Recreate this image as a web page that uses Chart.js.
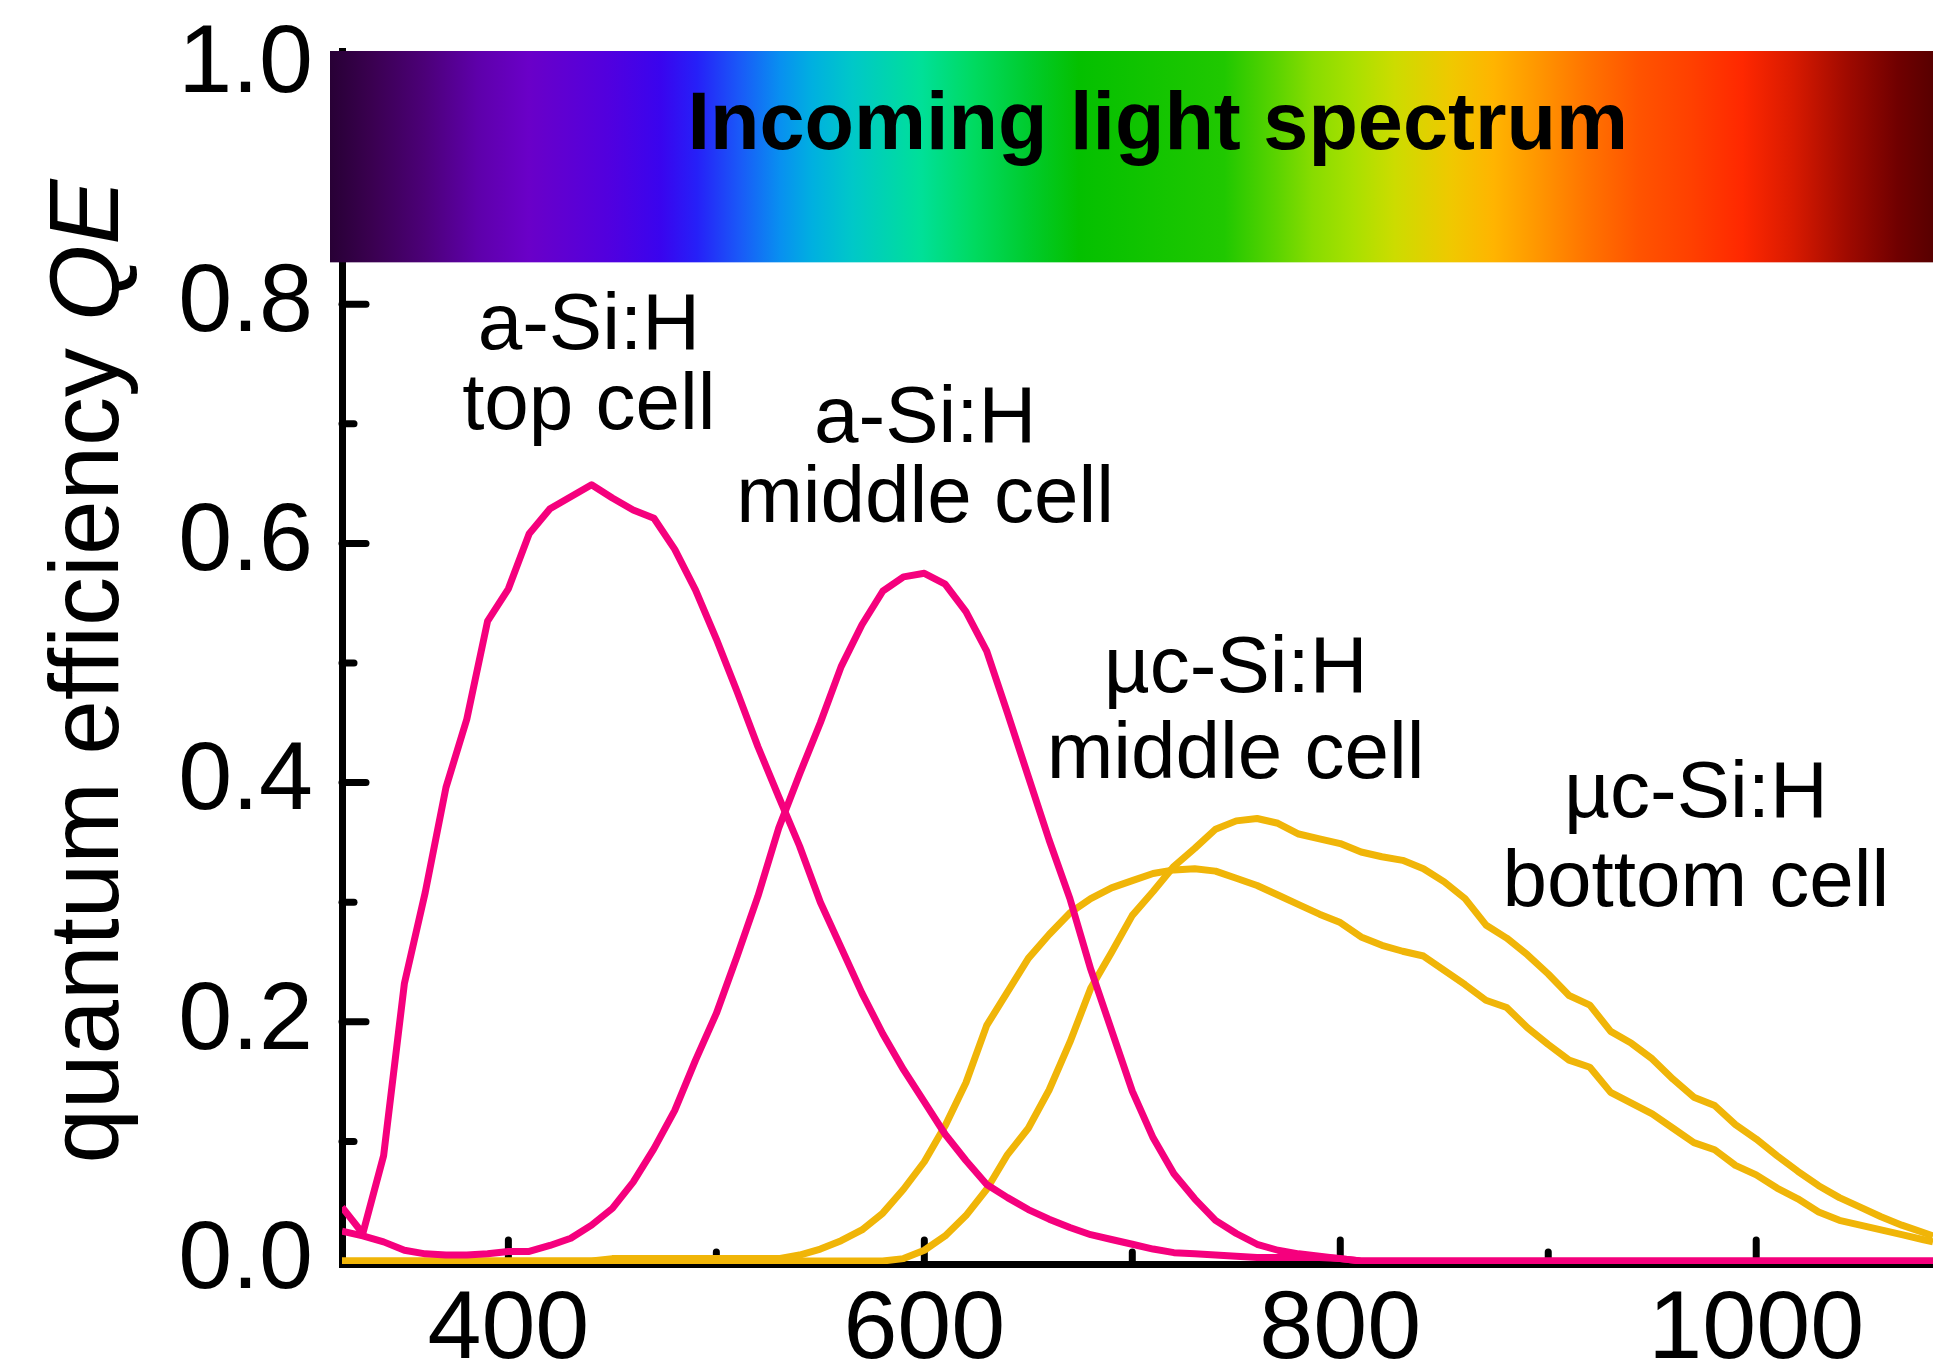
<!DOCTYPE html>
<html>
<head>
<meta charset="utf-8">
<title>Quantum efficiency of a triple-junction cell</title>
<script src="https://cdn.jsdelivr.net/npm/chart.js@4.4.1/dist/chart.umd.min.js"></script>
<style>
  html, body { margin: 0; padding: 0; background: #ffffff; }
  #wrap { position: relative; width: 1933px; height: 1372px; }
</style>
</head>
<body>
<div id="wrap"><canvas id="qe_chart"></canvas></div>
<script>
// wavelength grid in nm
const wavelengths = [
  320, 330, 340, 350, 360, 370, 380, 390, 400, 410,
  420, 430, 440, 450, 460, 470, 480, 490, 500, 510,
  520, 530, 540, 550, 560, 570, 580, 590, 600, 610,
  620, 630, 640, 650, 660, 670, 680, 690, 700, 710,
  720, 730, 740, 750, 760, 770, 780, 790, 800, 810,
  820, 830, 840, 850, 860, 870, 880, 890, 900, 910,
  920, 930, 940, 950, 960, 970, 980, 990, 1000, 1010,
  1020, 1030, 1040, 1050, 1060, 1070, 1080, 1085,
]

const aSiTopCell = [
  0.045, 0.023, 0.088, 0.232, 0.308, 0.396, 0.453, 0.535, 0.562, 0.608,
  0.629, 0.639, 0.649, 0.638, 0.628, 0.621, 0.595, 0.561, 0.52, 0.476,
  0.43, 0.388, 0.347, 0.3, 0.262, 0.224, 0.19, 0.16, 0.133, 0.106,
  0.084, 0.064, 0.053, 0.043, 0.035, 0.028, 0.022, 0.018, 0.014, 0.01,
  0.007, 0.006, 0.005, 0.004, 0.003, 0.003, 0.003, 0.003, 0.002, 0,
  0, 0, 0, 0, 0, 0, 0, 0, 0, 0,
  0, 0, 0, 0, 0, 0, 0, 0, 0, 0,
  0, 0, 0, 0, 0, 0, 0, 0,
]

const aSiMiddleCell = [
  0.025, 0.021, 0.016, 0.009, 0.006, 0.005, 0.005, 0.006, 0.008, 0.008,
  0.013, 0.019, 0.03, 0.044, 0.066, 0.094, 0.126, 0.168, 0.207, 0.255,
  0.305, 0.362, 0.407, 0.45, 0.497, 0.532, 0.56, 0.572, 0.575, 0.566,
  0.543, 0.51, 0.458, 0.405, 0.352, 0.303, 0.244, 0.193, 0.142, 0.103,
  0.073, 0.052, 0.034, 0.023, 0.014, 0.009, 0.006, 0.004, 0.002, 0,
  0, 0, 0, 0, 0, 0, 0, 0, 0, 0,
  0, 0, 0, 0, 0, 0, 0, 0, 0, 0,
  0, 0, 0, 0, 0, 0, 0, 0,
]

const ucSiMiddleCell = [
  0, 0, 0, 0, 0, 0, 0, 0, 0, 0,
  0, 0, 0, 0.002, 0.002, 0.002, 0.002, 0.002, 0.002, 0.002,
  0.002, 0.002, 0.005, 0.01, 0.017, 0.026, 0.04, 0.06, 0.083, 0.113,
  0.149, 0.197, 0.225, 0.253, 0.273, 0.291, 0.303, 0.312, 0.318, 0.324,
  0.327, 0.328, 0.326, 0.32, 0.314, 0.306, 0.298, 0.29, 0.283, 0.271,
  0.264, 0.259, 0.255, 0.243, 0.231, 0.218, 0.212, 0.195, 0.181, 0.168,
  0.162, 0.141, 0.132, 0.123, 0.111, 0.099, 0.093, 0.08, 0.072, 0.061,
  0.052, 0.041, 0.034, 0.03, 0.026, 0.022, 0.018, 0.016,
]

const ucSiBottomCell = [
  0, 0, 0, 0, 0, 0, 0, 0, 0, 0,
  0, 0, 0, 0, 0, 0, 0, 0, 0, 0,
  0, 0, 0, 0, 0, 0, 0, 0.002, 0.009, 0.021,
  0.038, 0.06, 0.089, 0.111, 0.143, 0.183, 0.228, 0.258, 0.289, 0.309,
  0.33, 0.345, 0.361, 0.368, 0.37, 0.366, 0.357, 0.353, 0.349, 0.342,
  0.338, 0.335, 0.328, 0.317, 0.303, 0.281, 0.27, 0.256, 0.24, 0.222,
  0.214, 0.192, 0.182, 0.169, 0.152, 0.137, 0.13, 0.114, 0.102, 0.088,
  0.075, 0.063, 0.053, 0.045, 0.037, 0.03, 0.024, 0.021,
]

// axis ticks: labelled values and the inward tick marks
const xTickLabels = [400, 600, 800, 1000]
const xMinorTicks = [500, 700, 900]
const yTickLabels = [0, 0.2, 0.4, 0.6, 0.8, 1.0]
const yMinorTicks = [0.1, 0.3, 0.5, 0.7, 0.9]

const cellLabels = [
  ["a-Si:H", "top cell"],
  ["a-Si:H", "middle cell"],
  ["µc-Si:H", "middle cell"],
  ["µc-Si:H", "bottom cell"],
]
const spectrumTitle = "Incoming light spectrum"
const yAxisTitle = ["quantum efficiency ", "QE"]

const FONT = "'Liberation Sans', Arial, sans-serif"
const MAGENTA = "#f5007d"
const GOLD = "#f0b508"

Chart.defaults.font.family = FONT
Chart.defaults.color = "#000000"

const toPoints = (values) => wavelengths.map((w, i) => ({ x: w, y: values[i] }))

// tick marks point into the plot, long for labelled values, short in between
const inwardTicks = {
  id: "inwardTicks",
  beforeDatasetsDraw(chart) {
    const { ctx, chartArea, scales: { x, y } } = chart
    ctx.save()
    ctx.strokeStyle = "#000000"
    ctx.lineWidth = 7
    ctx.lineCap = "round"
    const tick = (x1, y1, x2, y2) => {
      ctx.beginPath()
      ctx.moveTo(x1, y1)
      ctx.lineTo(x2, y2)
      ctx.stroke()
    }
    xTickLabels.forEach((v) => {
      const px = x.getPixelForValue(v)
      tick(px, chartArea.bottom, px, chartArea.bottom - 24)
    })
    xMinorTicks.forEach((v) => {
      const px = x.getPixelForValue(v)
      tick(px, chartArea.bottom, px, chartArea.bottom - 12)
    })
    yTickLabels.slice(1).forEach((v) => {
      const py = y.getPixelForValue(v)
      tick(chartArea.left, py, chartArea.left + 24, py)
    })
    yMinorTicks.forEach((v) => {
      const py = y.getPixelForValue(v)
      tick(chartArea.left, py, chartArea.left + 12, py)
    })
    ctx.restore()
  },
}

// rainbow band across the top of the plot
const spectrumBar = {
  id: "spectrumBar",
  beforeDatasetsDraw(chart) {
    const { ctx, chartArea, scales: { x, y } } = chart
    const left = chartArea.left - 12
    const top = y.getPixelForValue(y.max)
    const bottom = y.getPixelForValue(0.835)
    const grad = ctx.createLinearGradient(left, 0, chart.width, 0)
    const stops = [
      [0, "#280035"], [0.026, "#3a0050"], [0.059, "#4c0078"], [0.092, "#5e00aa"],
      [0.124, "#6a00c8"], [0.173, "#5200de"], [0.206, "#3a04ee"], [0.229, "#2620f8"],
      [0.255, "#1a58f8"], [0.281, "#0890f0"], [0.301, "#00b0e0"], [0.326, "#00c8c8"],
      [0.369, "#00e098"], [0.402, "#00da60"], [0.434, "#00cc30"], [0.467, "#04c000"],
      [0.558, "#20c800"], [0.591, "#5cd400"], [0.613, "#88dc00"], [0.638, "#a8e000"],
      [0.664, "#ccdc00"], [0.7, "#f0c800"], [0.726, "#ffb400"], [0.752, "#ff9800"],
      [0.784, "#ff7400"], [0.816, "#ff5400"], [0.849, "#ff4000"], [0.881, "#ff2800"],
      [0.913, "#d81a00"], [0.946, "#a00a00"], [0.978, "#700000"], [1, "#580000"],
    ]
    stops.forEach(([pos, color]) => grad.addColorStop(pos, color))
    ctx.save()
    ctx.fillStyle = grad
    ctx.fillRect(left, top, chart.width - left, bottom - top)
    ctx.fillStyle = "#000000"
    ctx.font = `bold 81px ${FONT}`
    ctx.textAlign = "center"
    ctx.textBaseline = "alphabetic"
    ctx.fillText(spectrumTitle, x.getPixelForValue(712.2), y.getPixelForValue(0.9298))
    ctx.restore()
  },
}

// cell names next to their curves, and the rotated y axis title
const cellAnnotations = {
  id: "cellAnnotations",
  afterDraw(chart) {
    const { ctx, scales: { x, y } } = chart
    const anchors = [
      { x: 438.7, y: [0.7625, 0.6957] },
      { x: 600.4, y: [0.6848, 0.6179] },
      { x: 749.7, y: [0.4758, 0.4038] },
      { x: 971.0, y: [0.3712, 0.2968] },
    ]
    ctx.save()
    ctx.fillStyle = "#000000"
    ctx.font = `80px ${FONT}`
    ctx.textAlign = "center"
    ctx.textBaseline = "alphabetic"
    cellLabels.forEach((lines, i) => {
      lines.forEach((line, j) => {
        ctx.fillText(line, x.getPixelForValue(anchors[i].x), y.getPixelForValue(anchors[i].y[j]))
      })
    })

    const regular = `98px ${FONT}`
    const italic = `italic 98px ${FONT}`
    ctx.font = regular
    const w1 = ctx.measureText(yAxisTitle[0]).width
    ctx.font = italic
    const w2 = ctx.measureText(yAxisTitle[1]).width
    ctx.translate(118, y.getPixelForValue(0.493))
    ctx.rotate(-Math.PI / 2)
    ctx.textAlign = "left"
    ctx.font = regular
    ctx.fillText(yAxisTitle[0], -(w1 + w2) / 2, 0)
    ctx.font = italic
    ctx.fillText(yAxisTitle[1], -(w1 + w2) / 2 + w1, 0)
    ctx.restore()
  },
}

const lineStyle = {
  borderWidth: 7,
  pointRadius: 0,
  tension: 0,
  fill: false,
  borderJoinStyle: "round",
}

new Chart(document.getElementById("qe_chart"), {
  type: "line",
  data: {
    datasets: [
      { ...lineStyle, data: toPoints(aSiTopCell), borderColor: MAGENTA },
      { ...lineStyle, data: toPoints(aSiMiddleCell), borderColor: MAGENTA },
      { ...lineStyle, data: toPoints(ucSiMiddleCell), borderColor: GOLD },
      { ...lineStyle, data: toPoints(ucSiBottomCell), borderColor: GOLD },
    ],
  },
  options: {
    responsive: true,
    maintainAspectRatio: false,
    devicePixelRatio: 1,
    animation: false,
    layout: { padding: { top: 51, right: 0, bottom: 0, left: 0 } },
    plugins: {
      legend: { display: false },
      tooltip: { enabled: false },
    },
    scales: {
      x: {
        type: "linear",
        min: 320,
        max: 1085,
        afterBuildTicks: (scale) => {
          scale.ticks = xTickLabels.map((v) => ({ value: v }))
        },
        afterFit: (scale) => {
          scale.height = 108
          scale.paddingLeft = 0
          scale.paddingRight = 0
        },
        grid: { display: false, drawTicks: false },
        border: { display: true, color: "#000000", width: 7 },
        ticks: {
          color: "#000000",
          font: { size: 97, lineHeight: 1 },
          padding: 19,
          maxRotation: 0,
          autoSkip: false,
          callback: (value) => String(value),
        },
      },
      y: {
        type: "linear",
        min: -0.0025,
        max: 1.0117,
        afterBuildTicks: (scale) => {
          scale.ticks = yTickLabels.map((v) => ({ value: v }))
        },
        afterFit: (scale) => {
          scale.width = 342
          // keep the plot top pinned to the layout padding
          scale.paddingTop = 0
          scale.paddingBottom = 0
        },
        grid: { display: false, drawTicks: false },
        border: { display: true, color: "#000000", width: 7 },
        ticks: {
          color: "#000000",
          font: { size: 97, lineHeight: 1 },
          padding: 29,
          autoSkip: false,
          callback: (value) => value.toFixed(1),
        },
      },
    },
  },
  plugins: [inwardTicks, spectrumBar, cellAnnotations],
})
</script>
</body>
</html>
